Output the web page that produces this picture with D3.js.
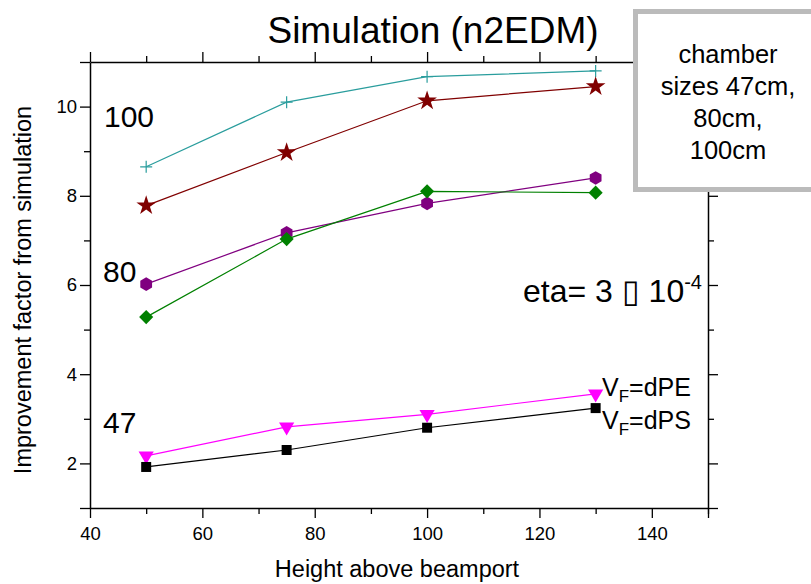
<!DOCTYPE html>
<html>
<head>
<meta charset="utf-8">
<script src="https://cdn.jsdelivr.net/npm/d3@7"></script>
<style>
  body { margin: 0; background: #fff; }
  svg { font-family: "Liberation Sans", Arial, sans-serif; }
</style>
</head>
<body>
<svg id="chart" width="811" height="584"></svg>
<script>
// heights above beamport (cm)
var heights = [50, 75, 100, 130];

// improvement factors
var cyanPlus   = [8.65, 10.1, 10.67, 10.8];
var redStar    = [7.78, 8.97, 10.13, 10.45];
var purpleHex  = [6.02, 7.17, 7.83, 8.4];
var greenDiam  = [5.28, 7.03, 8.1, 8.07];
var magentaTri = [2.17, 2.82, 3.1, 3.56];
var blackSq    = [1.92, 2.3, 2.8, 3.24];

var xTicks = [40, 60, 80, 100, 120, 140];
var yTicks = [2, 4, 6, 8, 10];
var boxLines = ["chamber", "sizes 47cm,", "80cm,", "100cm"];

var series = [
    {name: "cyan", values: cyanPlus, color: "#2a9d9d", marker: "plus"},
    {name: "red", values: redStar, color: "#800000", marker: "star"},
    {name: "purple", values: purpleHex, color: "#800080", marker: "hex"},
    {name: "green", values: greenDiam, color: "#008000", marker: "diamond"},
    {name: "magenta", values: magentaTri, color: "#ff00ff", marker: "tri"},
    {name: "black", values: blackSq, color: "#000000", marker: "square"}
];

var svg = d3.select("#chart");
var plotLeft = 90, plotRight = 708, plotTop = 62, plotBottom = 508;

var x = d3.scaleLinear().domain([40, 150]).range([plotLeft, plotRight]);
var y = d3.scaleLinear().domain([1, 11]).range([plotBottom, plotTop]);

// title
svg.append("text")
    .attr("x", 433).attr("y", 43)
    .attr("text-anchor", "middle")
    .style("font-size", "37px")
    .text("Simulation (n2EDM)");

// axes: major + minor ticks, outward on all four sides
var minorX = d3.range(50, 151, 20);
var minorY = d3.range(3, 11, 2);

function drawAxis(axisFn, scale, major, minor, transform, labels) {
    var gMinor = svg.append("g").attr("transform", transform)
        .call(axisFn(scale).tickValues(minor).tickSize(6).tickFormat(""));
    var gMajor = svg.append("g").attr("transform", transform)
        .call(axisFn(scale).tickValues(major).tickSize(10).tickSizeOuter(0)
            .tickFormat(labels ? d3.format("d") : ""));
    gMinor.select(".domain").remove();
    gMajor.select(".domain").attr("stroke-width", 1.5);
    svg.selectAll(".tick line").attr("stroke-width", 1.3);
    gMajor.selectAll("text").style("font-size", "18.5px").attr("fill", "#000");
    return gMajor;
}

var xMajor = xTicks.concat([150]);
var gx = drawAxis(d3.axisBottom, x, xMajor, minorX, "translate(0," + plotBottom + ")", true);
gx.selectAll("text").attr("dy", null).attr("y", 32);
gx.selectAll("text").filter(function(d) { return d == 150; }).remove();
drawAxis(d3.axisTop, x, xMajor, minorX, "translate(0," + plotTop + ")", false);

var yMajor = [1].concat(yTicks).concat([11]);
var gy = drawAxis(d3.axisLeft, y, yMajor, minorY, "translate(" + plotLeft + ",0)", true);
gy.selectAll("text").filter(function(d) { return d == 1 || d == 11; }).remove();
gy.selectAll("text").attr("x", -13);
drawAxis(d3.axisRight, y, yMajor, minorY, "translate(" + plotRight + ",0)", false);

// axis titles
svg.append("text")
    .attr("x", 397).attr("y", 577)
    .attr("text-anchor", "middle")
    .style("font-size", "23.5px")
    .text("Height above beamport");
svg.append("text")
    .attr("transform", "translate(31,290) rotate(-90)")
    .attr("text-anchor", "middle")
    .style("font-size", "23.5px")
    .text("Improvement factor from simulation");

// lines and markers
var line = d3.line()
    .x(function(d, i) { return x(heights[i]); })
    .y(function(d) { return y(d); });

var symbolFor = {
    star: d3.symbol().type(d3.symbolStar).size(120),
    diamond: d3.symbol().type(d3.symbolSquare).size(100),
    square: d3.symbol().type(d3.symbolSquare).size(100),
    tri: d3.symbol().type(d3.symbolTriangle).size(100)
};

series.forEach(function(s) {
    var g = svg.append("g");
    g.append("path").datum(s.values)
        .attr("d", line)
        .attr("fill", "none")
        .attr("stroke", s.color)
        .attr("stroke-width", 1.2);

    var pts = g.selectAll(".pt").data(s.values).enter().append("g")
        .attr("transform", function(d, i) { return "translate(" + x(heights[i]) + "," + y(d) + ")"; });

    if (s.marker == "plus") {
        pts.append("path").attr("d", "M-6,0H6M0,-6V6")
            .attr("stroke", s.color).attr("stroke-width", 1.2);
    } else if (s.marker == "hex") {
        var hex = d3.range(6).map(function(k) {
            var a = Math.PI / 3 * k + Math.PI / 6;
            return [6.8 * Math.cos(a), 6.8 * Math.sin(a)];
        });
        pts.append("path").attr("d", "M" + hex.join("L") + "Z").attr("fill", s.color);
    } else if (s.marker == "diamond") {
        pts.append("path").attr("d", symbolFor.diamond()).attr("transform", "rotate(45)").attr("fill", s.color);
    } else if (s.marker == "tri") {
        pts.append("path").attr("d", symbolFor.tri()).attr("transform", "rotate(180)").attr("fill", s.color);
    } else {
        pts.append("path").attr("d", symbolFor[s.marker]()).attr("fill", s.color);
    }
});

// annotations
function bigLabel(txt, xv, yv) {
    return svg.append("text").attr("x", xv).attr("y", yv)
        .style("font-size", "30px").text(txt);
}
bigLabel("100", 104, 127);
bigLabel("80", 103, 282);
bigLabel("47", 103, 433);

var eta = svg.append("text").attr("x", 702).attr("y", 302)
    .attr("text-anchor", "end").style("font-size", "32px");
eta.append("tspan").text("eta= 3 \u25AF 10");
eta.append("tspan").attr("dy", -13).style("font-size", "20px").text("-4");

function vfLabel(sub, yv) {
    var t = svg.append("text").attr("x", 602).attr("y", yv).style("font-size", "25px");
    t.append("tspan").text("V");
    t.append("tspan").attr("dy", 6).style("font-size", "17px").text("F");
    t.append("tspan").attr("dy", -6).text("=" + sub);
}
vfLabel("dPE", 396);
vfLabel("dPS", 429);

// chamber size box (drawn over the axes corner)
svg.append("rect")
    .attr("x", 635.5).attr("y", 11.5).attr("width", 200).attr("height", 178)
    .attr("fill", "#fff").attr("stroke", "#bbbbbb").attr("stroke-width", 5);
svg.append("g").selectAll("text").data(boxLines).enter().append("text")
    .attr("x", 728)
    .attr("y", function(d, i) { return 63 + i * 32; })
    .attr("text-anchor", "middle")
    .style("font-size", "25.5px")
    .text(function(d) { return d; });
</script>
</body>
</html>
